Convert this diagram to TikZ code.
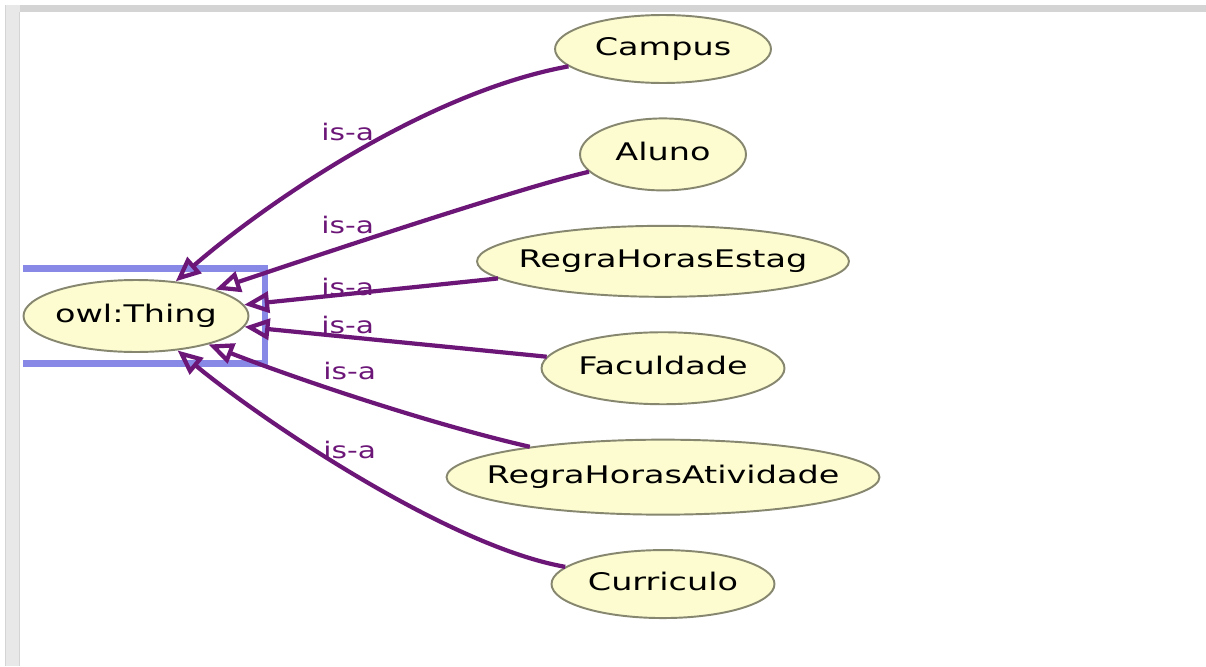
\documentclass[tikz,border=0pt]{standalone}
\usepackage{fontspec}
\usepackage{tikz}
\usetikzlibrary{shapes.geometric, arrows.meta, positioning}

\newfontfamily\clsfont[FakeStretch=1.38]{DejaVu Sans}
\newfontfamily\isafont[FakeStretch=1.3]{DejaVu Sans}

\definecolor{clsfill}{RGB}{252,252,208}
\definecolor{clsline}{RGB}{135,135,112}
\definecolor{isacol}{RGB}{108,22,120}
\definecolor{selbox}{RGB}{136,136,230}
\definecolor{panel}{RGB}{212,212,212}
\definecolor{panelside}{RGB}{232,232,232}

\begin{document}
\begin{tikzpicture}[
  x=0.02cm, y=-0.02cm,
  node distance=0.67cm,
  cls/.style={ellipse, draw=clsline, fill=clsfill, line width=1.1pt, inner sep=0pt,
    text height=0.73em, text depth=0pt, font=\clsfont\fontsize{13.8}{16}\selectfont},
  isa/.style={draw=isacol, line width=2.4pt, -{Triangle[open, length=0.5cm, width=0.42cm]}},
  isalbl/.style={anchor=west, inner sep=0pt, text=isacol, font=\isafont\fontsize{13}{15}\selectfont},
]
\useasboundingbox (0,0) rectangle (1206,666);
\fill[white] (0,0) rectangle (1206,666);

% Window frame
\fill[panel] (5,5) rectangle (1206,12);
\fill[panelside] (5,5) rectangle (20,666);
\draw[panel, line width=0.6pt] (5.5,5) -- (5.5,666);
\draw[panel, line width=0.6pt] (19.5,12) -- (19.5,666);

% Selection box
\draw[selbox, line width=3.8pt] (23,268.5) -- (265,268.5) -- (265,363.5) -- (23,363.5);

% Classes
\node[cls, minimum width=4.5cm, minimum height=1.44cm] (thing) at (136,316) {\makebox[0pt]{owl:Thing}};
\node[cls, minimum width=4.32cm, minimum height=1.36cm] (campus) at (663,49) {\makebox[0pt]{Campus}};
\node[cls, minimum width=3.32cm, minimum height=1.44cm, below=of campus] (aluno) {\makebox[0pt]{Aluno}};
\node[cls, minimum width=7.44cm, minimum height=1.42cm, below=of aluno] (estag) {\makebox[0pt]{RegraHorasEstag}};
\node[cls, minimum width=4.86cm, minimum height=1.44cm, below=of estag] (faculdade) {\makebox[0pt]{Faculdade}};
\node[cls, minimum width=8.66cm, minimum height=1.5cm, below=of faculdade] (atividade) {\makebox[0pt]{RegraHorasAtividade}};
\node[cls, minimum width=4.46cm, minimum height=1.36cm, below=of atividade] (curriculo) {\makebox[0pt]{Curriculo}};

% is-a links
\draw[isa] (campus) .. controls (418,94) and (253,214) .. (thing);
\draw[isa] (aluno) .. controls (511,190) and (274,270) .. (thing);
\draw[isa] (estag) -- (thing);
\draw[isa] (faculdade) -- (thing);
\draw[isa] (atividade) .. controls (430,424) and (294,378) .. (thing);
\draw[isa] (curriculo) .. controls (447,546) and (259,418) .. (thing);

% Labels
\node[isalbl] (lblcampus) at (321,132) {is-a};
\node[isalbl] (lblaluno) at (321,225) {is-a};
\node[isalbl] (lblestag) at (321,287) {is-a};
\node[isalbl] (lblfaculdade) at (321,325) {is-a};
\node[isalbl] (lblatividade) at (323,371) {is-a};
\node[isalbl] (lblcurriculo) at (323,450) {is-a};

\end{tikzpicture}
\end{document}
